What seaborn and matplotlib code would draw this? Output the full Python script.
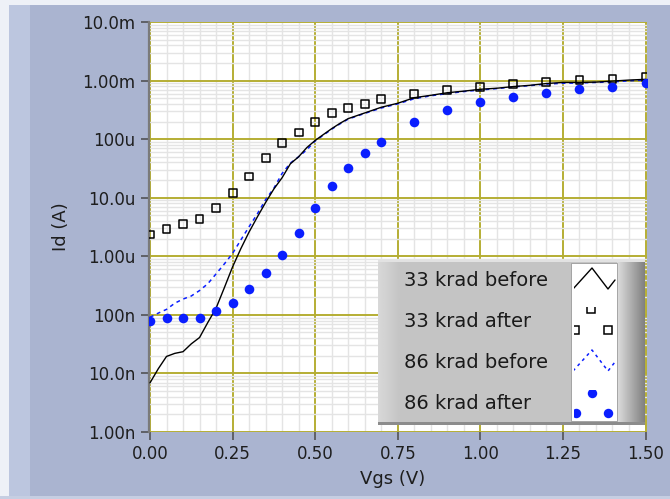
import matplotlib
matplotlib.use("Agg")
import numpy as np
import pandas as pd
import matplotlib.pyplot as plt
from matplotlib.patches import Rectangle
from matplotlib.ticker import FixedLocator, FixedFormatter, MultipleLocator, LogLocator, NullFormatter
import seaborn as sns

# ---- measured drain current vs gate voltage ----
vgs_curve = [0.000, 0.025, 0.050, 0.075, 0.100, 0.125, 0.150, 0.175, 0.200,
             0.225, 0.250, 0.275, 0.300, 0.325, 0.350, 0.375, 0.400, 0.425,
             0.450, 0.475, 0.500, 0.525, 0.550, 0.575, 0.600, 0.650, 0.700,
             0.750, 0.800, 0.850, 0.900, 0.950, 1.000, 1.050, 1.100, 1.150,
             1.200, 1.250, 1.300, 1.350, 1.400, 1.450, 1.500]
id_33_before = [6.9e-9, 1.2e-8, 1.95e-8, 2.2e-8, 2.35e-8, 3.2e-8, 4.1e-8, 7.4e-8, 1.3e-7,
                2.9e-7, 6.6e-7, 1.35e-6, 2.6e-6, 4.7e-6, 8.3e-6, 1.41e-5, 2.2e-5, 3.8e-5,
                5.0e-5, 7.2e-5, 9.5e-5, 1.2e-4, 1.51e-4, 1.86e-4, 2.24e-4, 2.8e-4, 3.5e-4,
                4.1e-4, 5.1e-4, 5.6e-4, 6.2e-4, 6.6e-4, 7.1e-4, 7.4e-4, 7.9e-4, 8.3e-4,
                8.9e-4, 9.3e-4, 9.3e-4, 9.4e-4, 9.8e-4, 1.02e-3, 1.05e-3]
id_86_before = [9.1e-8, 1.07e-7, 1.24e-7, 1.58e-7, 1.86e-7, 2.1e-7, 2.6e-7, 3.4e-7, 5.0e-7,
                7.4e-7, 1.12e-6, 1.9e-6, 3.2e-6, 5.3e-6, 9.3e-6, 1.45e-5, 2.6e-5, 3.9e-5,
                5.0e-5, 6.6e-5, 9.3e-5, 1.17e-4, 1.48e-4, 1.82e-4, 2.2e-4, 2.75e-4, 3.4e-4,
                4.0e-4, 4.9e-4, 5.5e-4, 6.0e-4, 6.5e-4, 6.9e-4, 7.3e-4, 7.8e-4, 8.2e-4,
                8.7e-4, 9.0e-4, 9.1e-4, 9.3e-4, 9.5e-4, 9.9e-4, 1.02e-3]

vgs_points = [0.00, 0.05, 0.10, 0.15, 0.20, 0.25, 0.30, 0.35, 0.40, 0.45, 0.50, 0.55,
              0.60, 0.65, 0.70, 0.80, 0.90, 1.00, 1.10, 1.20, 1.30, 1.40, 1.50]
id_33_after = [2.35e-6, 2.9e-6, 3.5e-6, 4.4e-6, 6.6e-6, 1.2e-5, 2.3e-5, 4.7e-5, 8.5e-5,
               1.3e-4, 1.95e-4, 2.8e-4, 3.4e-4, 4.0e-4, 4.8e-4, 5.9e-4, 6.9e-4, 7.7e-4,
               8.7e-4, 9.4e-4, 1.02e-3, 1.05e-3, 1.14e-3]
id_86_after = [7.9e-8, 9.0e-8, 8.7e-8, 9.0e-8, 1.17e-7, 1.6e-7, 2.75e-7, 5.2e-7, 1.07e-6,
               2.5e-6, 6.6e-6, 1.56e-5, 3.2e-5, 5.7e-5, 8.9e-5, 1.95e-4, 3.1e-4, 4.3e-4,
               5.2e-4, 6.1e-4, 7.1e-4, 7.7e-4, 9.1e-4]

series_names = ["33 krad before", "33 krad after", "86 krad before", "86 krad after"]

x_ticks = [0.00, 0.25, 0.50, 0.75, 1.00, 1.25, 1.50]
x_tick_labels = ["0.00", "0.25", "0.50", "0.75", "1.00", "1.25", "1.50"]
y_ticks = [1e-9, 1e-8, 1e-7, 1e-6, 1e-5, 1e-4, 1e-3, 1e-2]
y_tick_labels = ["1.00n", "10.0n", "100n", "1.00u", "10.0u", "100u", "1.00m", "10.0m"]

# ---- style ----
PANEL = "#AAB4D0"
BLUE = "#0A1EFF"
MAJOR_GRID = "#B5AE34"
MINOR_GRID = "#E4E4E4"

sns.set_style("white")
plt.rcParams["font.family"] = ["DejaVu Sans"]

W, H = 670, 499
fig = plt.figure(figsize=(W / 100, H / 100), dpi=100, facecolor=PANEL)


def fx(px):
    return px / W


def fy(py):
    return 1 - py / H


# bevelled front-panel frame
for (x0, y0, w, h, c) in [
    (0, 0, 9, H, "#EEF1F7"),
    (9, 0, 21, H, "#BCC6DF"),
    (0, 0, W, 5, "#EEF1F7"),
    (0, H - 3, W, 3, "#C6CEE2"),
]:
    fig.patches.append(Rectangle((fx(x0), fy(y0 + h)), w / W, h / H,
                                 transform=fig.transFigure, facecolor=c,
                                 edgecolor="none", zorder=-5))

# ---- main graph ----
ax = fig.add_axes([fx(149), fy(432), (647 - 149) / W, (432 - 22) / H])
ax.set_facecolor("white")

curves = pd.DataFrame({"Vgs": vgs_curve, "before33": id_33_before, "before86": id_86_before})
points = pd.DataFrame({"Vgs": vgs_points, "after33": id_33_after, "after86": id_86_after})

sns.lineplot(data=curves, x="Vgs", y="before86", ax=ax, color=BLUE, linewidth=1.1,
             linestyle=(0, (2.5, 2.5)), zorder=3)
sns.lineplot(data=curves, x="Vgs", y="before33", ax=ax, color="black", linewidth=1.0, zorder=4)
sns.scatterplot(data=points, x="Vgs", y="after33", ax=ax, marker="s", s=32,
                facecolor="none", edgecolor="black", linewidth=1.1, zorder=5)
sns.scatterplot(data=points, x="Vgs", y="after86", ax=ax, marker="o", s=48,
                color=BLUE, linewidth=0, zorder=6)

ax.set_yscale("log")
ax.set_xlim(-0.003, 1.5045)
ax.set_ylim(1e-9, 1e-2)

ax.xaxis.set_major_locator(FixedLocator(x_ticks))
ax.xaxis.set_major_formatter(FixedFormatter(x_tick_labels))
ax.xaxis.set_minor_locator(MultipleLocator(0.05))
ax.yaxis.set_major_locator(FixedLocator(y_ticks))
ax.yaxis.set_major_formatter(FixedFormatter(y_tick_labels))
ax.yaxis.set_minor_locator(LogLocator(base=10, subs=np.arange(2, 10), numticks=20))
ax.yaxis.set_minor_formatter(NullFormatter())

ax.grid(which="minor", color=MINOR_GRID, linewidth=1.0)
ax.grid(which="major", color=MAJOR_GRID, linewidth=1.4)
ax.set_axisbelow(True)

ax.tick_params(which="major", direction="out", length=6, width=1.1, color="#4A4A4A",
               labelsize=12, labelcolor="#1E1E1E", bottom=True, left=True)
ax.tick_params(axis="y", which="major", pad=4.0)
ax.tick_params(axis="x", which="major", pad=3.5)
ax.tick_params(which="minor", length=0)

for side in ["top", "right", "bottom"]:
    ax.spines[side].set_visible(False)
ax.spines["left"].set_color("#7A7A7A")
ax.spines["left"].set_linewidth(1.6)

ax.set_xlabel("Vgs (V)", fontsize=13, color="#1E1E1E")
ax.set_ylabel("Id (A)", fontsize=13, color="#1E1E1E")
ax.xaxis.set_label_coords(0.49, -0.093)
ax.yaxis.set_label_coords(-0.158, 0.5)

# ---- plot legend panel ----
lg = fig.add_axes([fx(378), fy(425), (645 - 378) / W, (425 - 260) / H], zorder=10)
lg.axis("off")

lg.add_patch(Rectangle((0, 0), 267, 165, facecolor="#C4C4C4", edgecolor="none", zorder=1))
left_grad = np.linspace(0.85, 0.77, 32)[None, :]
lg.imshow(left_grad, extent=(0, 22, 165, 0), cmap="gray", vmin=0, vmax=1,
          aspect="auto", interpolation="bilinear", zorder=2)
right_grad = np.linspace(0.87, 0.50, 64)[None, :]
lg.imshow(right_grad, extent=(239, 267, 165, 0), cmap="gray", vmin=0, vmax=1,
          aspect="auto", interpolation="bilinear", zorder=2)
lg.add_patch(Rectangle((0, 0), 267, 1.5, facecolor="#E2E2E2", edgecolor="none", zorder=3))
lg.add_patch(Rectangle((0, 161.5), 267, 3.5, facecolor="#8C8C8C", edgecolor="none", zorder=3))
lg.add_patch(Rectangle((193, 3), 46, 158, facecolor="white", edgecolor="#9A9A9A",
                       linewidth=0.6, zorder=3))
lg.set_xlim(0, 267)
lg.set_ylim(165, 0)

for i, name in enumerate(series_names):
    lg.text(26, 20.5 + 40.9 * i, name, fontsize=14, ha="left", va="center",
            color="#1A1A1A", zorder=4)


def clip_to(artists, top, bottom):
    box = Rectangle((196, top), 43, bottom - top, transform=lg.transData)
    for a in artists:
        a.set_zorder(5)
        a.set_clip_path(box)


clip_to(lg.plot([195, 214, 230, 237], [29, 8, 29, 20], color="black", linewidth=1.0), 3, 44)
clip_to(lg.plot([213, 197, 230], [49, 70, 70], linestyle="none", marker="s", markersize=5.6,
                markerfacecolor="none", markeredgecolor="black", markeredgewidth=1.1), 47, 85)
clip_to(lg.plot([195, 214, 230, 237], [111, 90, 111, 102], color=BLUE, linewidth=1.1,
                linestyle=(0, (2.0, 2.5))), 86, 126)
clip_to(lg.plot([214, 198, 230], [133, 153, 153], linestyle="none", marker="o", markersize=6.8,
                markerfacecolor=BLUE, markeredgecolor="none"), 130, 161)

fig.savefig("out.png", dpi=100, facecolor=fig.get_facecolor())
